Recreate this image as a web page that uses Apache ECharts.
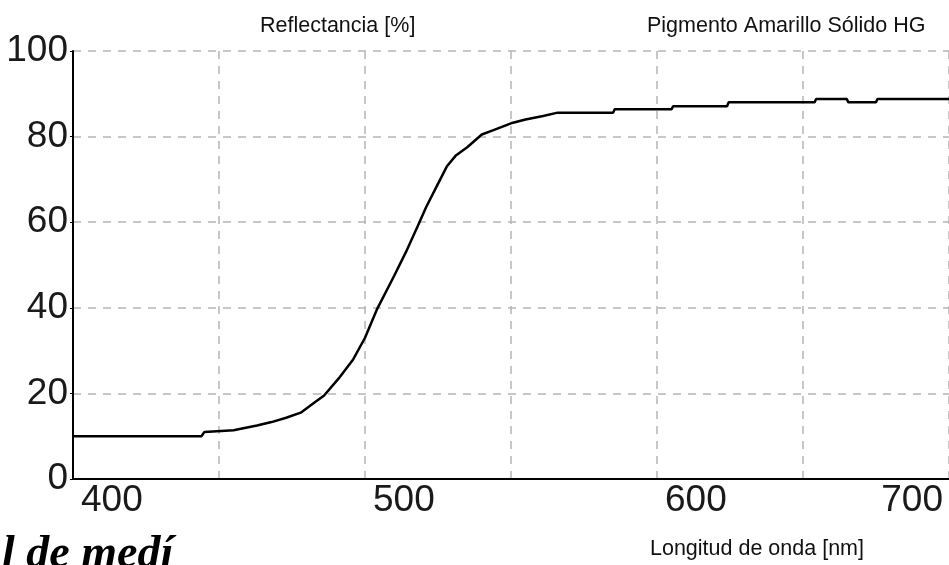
<!DOCTYPE html>
<html>
<head>
<meta charset="utf-8">
<script src="https://cdn.jsdelivr.net/npm/echarts@6/dist/echarts.min.js"></script>
<style>
html,body{margin:0;padding:0;background:#fff;}
#chart{width:949px;height:565px;}
</style>
</head>
<body>
<div id="chart"></div>
<script>
// Wavelength (nm) and reflectance (%)
var wavelength = [400, 444, 445, 455, 463, 468, 473, 478, 482, 486, 491, 496, 500, 504, 510, 514, 518, 521, 524.5, 528, 531, 535, 540, 544, 550, 555, 561, 566, 585, 585.5, 605, 605.5, 624, 624.5, 654, 654.5, 665, 665.5, 675, 675.5, 700];
var reflectance = [10.0, 10.0, 11.0, 11.4, 12.5, 13.3, 14.3, 15.5, 17.5, 19.5, 23.5, 28.0, 33.0, 39.5, 47.5, 53.0, 59.0, 63.6, 68.3, 73.0, 75.5, 77.5, 80.5, 81.5, 83.1, 84.0, 84.8, 85.6, 85.6, 86.4, 86.4, 87.1, 87.1, 88.0, 88.0, 88.8, 88.8, 88.0, 88.0, 88.8, 88.8];
var xTickLabels = [400, 500, 600, 700];
var yTickLabels = [0, 20, 40, 60, 80, 100];
var titleLeft = 'Reflectancia [%]';
var titleRight = 'Pigmento Amarillo Sólido HG';
var xAxisTitle = 'Longitud de onda [nm]';
var cutText = 'l de medí';

var seriesData = wavelength.map(function (w, i) { return [w, reflectance[i]]; });

var chart = echarts.init(document.getElementById('chart'), null, {renderer: 'canvas'});
var labelFont = 'Liberation Sans, Arial, sans-serif';
var gridLine = {show: true, lineStyle: {color: '#b5b5b5', width: 1.5, type: [8, 7]}};

chart.setOption({
  backgroundColor: '#ffffff',
  animation: false,
  title: [
    {text: titleLeft, left: 255, top: 10, textStyle: {fontFamily: labelFont, fontSize: 21.5, fontWeight: 'normal', color: '#111'}},
    {text: titleRight, left: 642, top: 10, textStyle: {fontFamily: labelFont, fontSize: 21.5, fontWeight: 'normal', color: '#111'}},
    {text: xAxisTitle, left: 645, top: 533, textStyle: {fontFamily: labelFont, fontSize: 21.5, fontWeight: 'normal', color: '#111'}}
  ],
  graphic: [
    {type: 'text', left: 2, top: 532, style: {text: cutText, font: 'italic bold 46px "Liberation Serif", serif', fill: '#000'}}
  ],
  grid: {left: 73, right: 0, top: 51, bottom: 86, containLabel: false},
  xAxis: {
    type: 'value', min: 400, max: 700, interval: 50,
    axisLine: {show: true, onZero: false, lineStyle: {color: '#000', width: 2}},
    axisTick: {show: false},
    splitLine: gridLine,
    axisLabel: {
      fontFamily: labelFont, fontSize: 37, color: '#1a1a1a', margin: 3,
      align: 'left', padding: [0, 6, 0, 8], alignMaxLabel: 'right',
      formatter: function (v) { return xTickLabels.indexOf(v) >= 0 ? String(v) : ''; }
    }
  },
  yAxis: {
    type: 'value', min: 0, max: 100, interval: 20,
    axisLine: {show: true, lineStyle: {color: '#000', width: 2}},
    axisTick: {show: true, length: 3, lineStyle: {color: '#000', width: 1}},
    splitLine: gridLine,
    axisLabel: {
      fontFamily: labelFont, fontSize: 37, color: '#1a1a1a', margin: 5,
      formatter: function (v) { return yTickLabels.indexOf(v) >= 0 ? String(v) : ''; }
    }
  },
  series: [{
    type: 'line', data: seriesData, showSymbol: false, symbol: 'none',
    lineStyle: {color: '#000', width: 2.5}, z: 5
  }]
});
</script>
</body>
</html>
